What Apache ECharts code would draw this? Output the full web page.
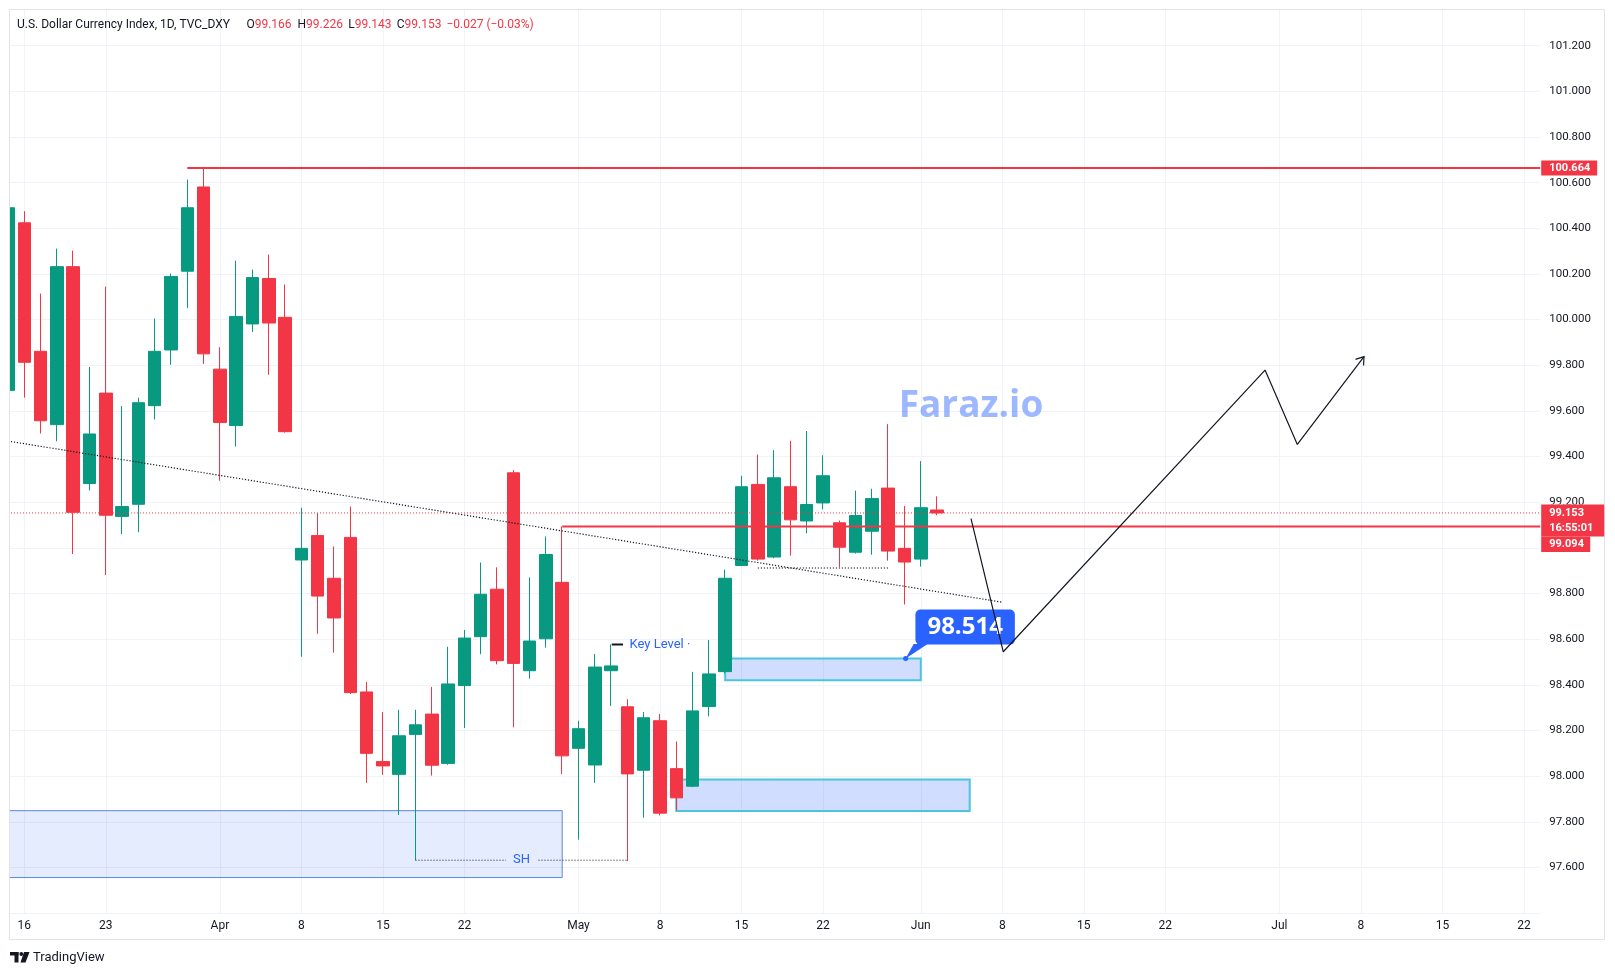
<!DOCTYPE html>
<html>
<head>
<meta charset="utf-8">
<title>U.S. Dollar Currency Index, 1D</title>
<script src="https://cdn.jsdelivr.net/npm/echarts@6/dist/echarts.min.js"></script>
<style>
  html, body { margin: 0; padding: 0; background: #fff; }
  #chart { width: 1615px; height: 975px; }
</style>
</head>
<body>
<div id="chart"></div>
<script>
// daily candles, index 0 = Fri 13 Mar, last one = Tue 2 Jun
const opens  = [99.69, 100.424, 99.861, 99.540, 100.232, 99.282, 99.678, 99.138, 99.191, 99.623,
                99.867, 100.212, 100.581, 99.783, 99.536, 99.981, 100.180, 100.010, 98.947, 99.054,
                98.867, 99.046, 98.369, 98.064, 98.008, 98.183, 98.272, 98.056, 98.397, 98.611,
                98.819, 99.329, 98.462, 98.602, 98.849, 98.122, 98.049, 98.462, 98.304, 98.026,
                98.243, 98.033, 97.956, 98.305, 98.458, 98.923, 99.278, 98.960, 99.268, 99.118,
                99.197, 99.110, 98.981, 99.073, 99.262, 98.998, 98.951, 99.166];
const highs  = [100.52, 100.475, 100.114, 100.311, 100.302, 99.792, 100.145, 99.621, 99.658, 100.005,
                100.202, 100.613, 100.660, 99.879, 100.258, 100.219, 100.285, 100.154, 99.176, 99.152,
                99.006, 99.181, 98.413, 98.281, 98.291, 98.291, 98.391, 98.567, 98.640, 98.936,
                98.915, 99.341, 98.871, 99.050, 99.094, 98.243, 98.535, 98.577, 98.337, 98.281,
                98.272, 98.152, 98.457, 98.596, 98.905, 99.316, 99.409, 99.428, 99.469, 99.512,
                99.406, 99.120, 99.251, 99.259, 99.542, 99.184, 99.380, 99.226];
const lows   = [99.66, 99.658, 99.501, 99.467, 98.973, 99.252, 98.881, 99.060, 99.069, 99.562,
                99.802, 100.050, 99.806, 99.294, 99.444, 99.946, 99.758, 99.505, 98.523, 98.624,
                98.541, 98.360, 97.971, 98.006, 97.830, 97.632, 98.003, 98.050, 98.211, 98.534,
                98.490, 98.214, 98.427, 98.563, 98.010, 97.722, 97.971, 98.308, 97.628, 97.818,
                97.828, 97.850, 97.952, 98.262, 98.450, 98.920, 98.944, 98.955, 98.966, 99.064,
                99.169, 98.916, 98.975, 98.970, 98.944, 98.752, 98.918, 99.143];
const closes = [100.49, 99.813, 99.557, 100.232, 99.156, 99.499, 99.143, 99.181, 99.636, 99.861,
                100.189, 100.490, 99.850, 99.549, 100.014, 100.184, 99.985, 99.509, 98.998, 98.789,
                98.693, 98.366, 98.100, 98.045, 98.177, 98.225, 98.048, 98.404, 98.605, 98.797,
                98.506, 98.494, 98.592, 98.971, 98.089, 98.208, 98.478, 98.483, 98.010, 98.256,
                97.838, 97.905, 98.286, 98.448, 98.867, 99.268, 98.951, 99.307, 99.123, 99.190,
                99.316, 99.003, 99.142, 99.216, 98.986, 98.938, 99.176, 99.153];

// time scale labels (bar index -> text)
const tickIdx  = [1, 6, 13, 18, 23, 28, 35, 40, 45, 50, 56, 61, 66, 71, 78, 83, 88, 93];
const tickText = ['16', '23', 'Apr', '8', '15', '22', 'May', '8', '15', '22', 'Jun', '8', '15', '22', 'Jul', '8', '15', '22'];

// drawings, [bar index, price]
const levelHigh  = 100.664;
const levelPivot = 99.094;
const lastPrice  = 99.153;
const trendLine  = [[0, 99.468], [61, 98.762]];
const equalLows  = [[46, 98.912], [54, 98.912]];
const shLine     = [[25, 97.632], [38, 97.632]];
const keyLevel   = [[37.04, 98.577], [37.73, 98.577]];
const projection = [[59.08, 99.128], [61.06, 98.545], [77.12, 99.779], [79.1, 99.453], [83.19, 99.838]];
const zoneSwing  = [[0, 97.849], [34, 97.556]];
const zoneUpper  = [[44, 98.515], [56, 98.420]];
const zoneLower  = [[41, 97.985], [59, 97.847]];
const callout    = [55.07, 98.515];

const UP = '#089981', DOWN = '#f23645', RED = '#f23645', BLUE = '#2962ff', INK = '#131722', GRID = '#f0f3fa';
const FONT = 'Roboto, "Noto Sans", sans-serif';

// 95 trading days on the time scale (weekdays only)
const categories = [];
(function () {
  const d = new Date(Date.UTC(2026, 2, 13));
  while (categories.length < 95) {
    const wd = d.getUTCDay();
    if (wd !== 0 && wd !== 6) categories.push(d.toISOString().slice(0, 10));
    d.setUTCDate(d.getUTCDate() + 1);
  }
})();

const tickMap = new Map(tickIdx.map((i, k) => [i, tickText[k]]));
const candles = opens.map((o, i) => [o, closes[i], lows[i], highs[i]]);
const zoneRows = [
  [zoneSwing[0][0], zoneSwing[0][1], zoneSwing[1][0], zoneSwing[1][1], 0],
  [zoneUpper[0][0], zoneUpper[0][1], zoneUpper[1][0], zoneUpper[1][1], 1],
  [zoneLower[0][0], zoneLower[0][1], zoneLower[1][0], zoneLower[1][1], 1]
];

function renderZone(params, api) {
  const a = api.coord([api.value(0), api.value(1)]);
  const b = api.coord([api.value(2), api.value(3)]);
  const pale = api.value(4) === 0;
  return {
    type: 'rect',
    shape: { x: a[0], y: a[1], width: b[0] - a[0], height: b[1] - a[1] },
    style: pale
      ? { fill: 'rgba(33,100,243,0.12)', stroke: '#5b87e8', lineWidth: 1 }
      : { fill: 'rgba(41,98,255,0.22)', stroke: '#4cc3df', lineWidth: 2 }
  };
}

function seg(name, data, color, width, type, z) {
  return {
    type: 'line', name: name, xAxisIndex: 1, yAxisIndex: 0, data: data,
    symbol: 'none', silent: true, z: z || 4,
    lineStyle: { color: color, width: width, type: type || 'solid' }
  };
}

const chart = echarts.init(document.getElementById('chart'));

const option = {
  animation: false,
  backgroundColor: '#ffffff',
  grid: { left: 8, top: -3.64, width: 1532.2, height: 916.8 },
  xAxis: [
    {
      type: 'category', data: categories, boundaryGap: false,
      axisLine: { show: false }, axisTick: { show: false },
      axisLabel: {
        interval: (i) => tickMap.has(i),
        formatter: (v, i) => tickMap.get(i) || '',
        color: INK, fontFamily: FONT, fontSize: 12, margin: 7
      },
      splitLine: { show: true, interval: (i) => tickMap.has(i), lineStyle: { color: GRID, width: 1 } }
    },
    { type: 'value', min: 0, max: 94, show: false }
  ],
  yAxis: {
    type: 'value', position: 'right', min: 97.4, max: 101.4, interval: 0.2,
    axisLine: { show: false }, axisTick: { show: false },
    axisLabel: {
      color: INK, fontFamily: FONT, fontSize: 11.5, margin: 9,
      showMinLabel: false, showMaxLabel: false,
      formatter: (v) => v.toFixed(3)
    },
    splitLine: { lineStyle: { color: GRID, width: 1 } }
  },
  series: [
    {
      type: 'custom', name: 'zones', xAxisIndex: 1, yAxisIndex: 0,
      data: zoneRows, renderItem: renderZone, encode: { x: [0, 2], y: [1, 3] },
      silent: true, z: 1
    },
    {
      type: 'candlestick', name: 'DXY', xAxisIndex: 0, yAxisIndex: 0,
      data: candles, barWidth: 13, z: 2,
      itemStyle: { color: UP, color0: DOWN, borderColor: UP, borderColor0: DOWN, borderWidth: 1 }
    },
    seg('last', [[0, lastPrice], [94, lastPrice]], RED, 1, [1, 2]),
    seg('high', [[11, levelHigh], [94, levelHigh]], RED, 2),
    seg('pivot', [[34, levelPivot], [94, levelPivot]], RED, 2),
    seg('trend', trendLine, INK, 1.2, [1.2, 1.8]),
    seg('eqLows', equalLows, INK, 1.2, [1.2, 1.8]),
    seg('sh', shLine, INK, 1, [1, 2]),
    seg('key', keyLevel, INK, 2),
    {
      type: 'scatter', name: 'notes', xAxisIndex: 1, yAxisIndex: 0, silent: true, z: 5,
      symbolSize: 1, itemStyle: { color: 'rgba(0,0,0,0)', opacity: 1 },
      data: [
        { value: shLine[0].map((v, k) => (v + shLine[1][k]) / 2),
          label: { show: true, formatter: 'SH', position: 'inside', color: BLUE, fontSize: 13,
                   fontFamily: FONT, backgroundColor: '#e4ecfe', padding: [0, 7] } },
        { value: keyLevel[1],
          label: { show: true, formatter: 'Key Level ·', position: 'right', distance: 6, color: BLUE,
                   fontSize: 13, fontFamily: FONT } }
      ]
    },
    {
      type: 'scatter', name: 'callout', xAxisIndex: 1, yAxisIndex: 0, silent: true, z: 3,
      symbolSize: 5, itemStyle: { color: BLUE, opacity: 1 },
      data: [{
        value: callout,
        label: { show: true, formatter: '98.514', position: 'inside', offset: [59.5, -31.5],
                 color: '#fff', fontSize: 24, fontWeight: 'bold', fontFamily: '"Open Sans", Roboto, sans-serif',
                 lineHeight: 27, backgroundColor: BLUE, borderRadius: 5, padding: [4, 12] }
      }]
    },
    seg('path', projection, INK, 1.2, 'solid', 6)
  ]
};

chart.setOption(option);

// decorations placed from the axes' own scales
const yPix = (v) => chart.convertToPixel({ yAxisIndex: 0 }, v);
const xyPix = (p) => chart.convertToPixel({ xAxisIndex: 1, yAxisIndex: 0 }, p);
const gx = chart.convertToPixel({ xAxisIndex: 1 }, 94);

const yHigh = yPix(levelHigh);
const yLast = yPix(lastPrice);
const tagFont = 'bold 11px Roboto, sans-serif';

const anchor = xyPix(callout);
const tip = xyPix(projection[projection.length - 1]);
const prev = xyPix(projection[projection.length - 2]);
const dx = prev[0] - tip[0], dy = prev[1] - tip[1];
const len = Math.hypot(dx, dy);
const ux = dx / len, uy = dy / len;
function arm(angle) {
  const c = Math.cos(angle), s = Math.sin(angle);
  return [tip[0] + 9 * (ux * c - uy * s), tip[1] + 9 * (ux * s + uy * c)];
}

const graphics = [
  // mask outside pane + frame
  { type: 'rect', z: 100, shape: { x: 0, y: 0, width: 1615, height: 9.5 }, style: { fill: '#fff' } },
  { type: 'rect', z: 100, shape: { x: 0, y: 0, width: 9.5, height: 975 }, style: { fill: '#fff' } },
  { type: 'rect', z: 101, shape: { x: 9.5, y: 9.5, width: 1595, height: 930 },
    style: { fill: 'none', stroke: '#e0e3eb', lineWidth: 1 } },

  // legend line
  { type: 'text', z: 102, style: { x: 17, y: 25, text: 'U.S. Dollar Currency Index, 1D, TVC_DXY',
      fill: INK, font: '12px ' + FONT, verticalAlign: 'middle' } },
  { type: 'text', z: 102, style: { x: 246.4, y: 25, text: '{k|O}{v|99.166}', verticalAlign: 'middle',
      font: '12px ' + FONT, rich: { k: { fill: INK }, v: { fill: RED } } } },
  { type: 'text', z: 102, style: { x: 297.5, y: 25, text: '{k|H}{v|99.226}', verticalAlign: 'middle',
      font: '12px ' + FONT, rich: { k: { fill: INK }, v: { fill: RED } } } },
  { type: 'text', z: 102, style: { x: 348.2, y: 25, text: '{k|L}{v|99.143}', verticalAlign: 'middle',
      font: '12px ' + FONT, rich: { k: { fill: INK }, v: { fill: RED } } } },
  { type: 'text', z: 102, style: { x: 396.8, y: 25, text: '{k|C}{v|99.153}', verticalAlign: 'middle',
      font: '12px ' + FONT, rich: { k: { fill: INK }, v: { fill: RED } } } },
  { type: 'text', z: 102, style: { x: 446.4, y: 25, text: '\u22120.027 (\u22120.03%)', fill: RED,
      font: '12px ' + FONT, verticalAlign: 'middle' } },

  // watermark
  { type: 'text', z: 3, style: { x: 971, y: 406, text: 'Faraz.io', align: 'center', verticalAlign: 'middle',
      font: 'bold 37px "Open Sans", Roboto, sans-serif', fill: 'rgba(41,98,255,0.45)' } },

  // callout tail
  { type: 'polygon', z: 3, shape: { points: [anchor, [anchor[0] + 8, anchor[1] - 14.5], [anchor[0] + 22, anchor[1] - 14.5]] },
    style: { fill: BLUE } },

  // arrow head of projection
  { type: 'polyline', z: 6, shape: { points: [arm(0.6), tip, arm(-0.6)] },
    style: { stroke: INK, lineWidth: 1.2, fill: 'none' } },

  // price scale tags
  { type: 'rect', z: 102, shape: { x: gx + 1, y: yHigh - 7.5, width: 56, height: 15 }, style: { fill: RED } },
  { type: 'text', z: 103, style: { x: gx + 9, y: yHigh, text: levelHigh.toFixed(3), fill: '#fff', font: tagFont, verticalAlign: 'middle' } },
  { type: 'rect', z: 102, shape: { x: gx + 1, y: yLast - 8.5, width: 62, height: 48 }, style: { fill: '#fff' } },
  { type: 'rect', z: 102, shape: { x: gx + 1, y: yLast - 8.5, width: 63, height: 32 }, style: { fill: RED } },
  { type: 'text', z: 103, style: { x: gx + 9, y: yLast, text: lastPrice.toFixed(3), fill: '#fff', font: tagFont, verticalAlign: 'middle' } },
  { type: 'text', z: 103, style: { x: gx + 9, y: yLast + 15, text: '16:55:01', fill: '#fff', font: tagFont, verticalAlign: 'middle' } },
  { type: 'rect', z: 102, shape: { x: gx + 1, y: yLast + 23.5, width: 49, height: 15.5 }, style: { fill: RED } },
  { type: 'text', z: 103, style: { x: gx + 9, y: yLast + 31.3, text: levelPivot.toFixed(3), fill: '#fff', font: tagFont, verticalAlign: 'middle' } },

  // footer logo
  { type: 'rect', z: 102, shape: { x: 10, y: 952, width: 8.5, height: 3.5 }, style: { fill: INK } },
  { type: 'rect', z: 102, shape: { x: 14.5, y: 952, width: 4, height: 10.5 }, style: { fill: INK } },
  { type: 'circle', z: 102, shape: { cx: 21.3, cy: 954, r: 1.9 }, style: { fill: INK } },
  { type: 'polygon', z: 102, shape: { points: [[24, 952], [29.5, 952], [25.5, 962.5], [20.5, 962.5]] }, style: { fill: INK } },
  { type: 'text', z: 102, style: { x: 33, y: 958, text: 'TradingView', fill: INK, font: '13px ' + FONT, verticalAlign: 'middle' } }
];

chart.setOption({ graphic: graphics });
</script>
</body>
</html>
